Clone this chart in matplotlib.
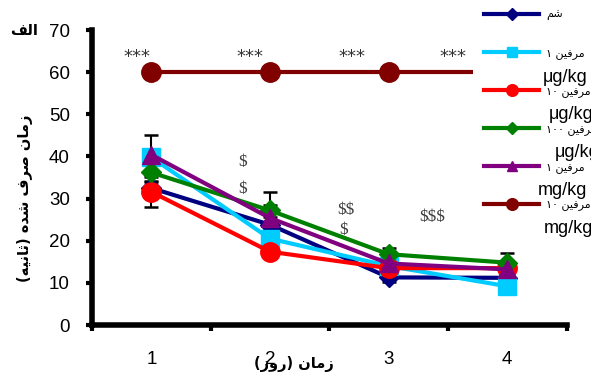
import re
import matplotlib
matplotlib.use("Agg")
import matplotlib.pyplot as plt

# --- data ---
days = [1, 2, 3, 4]
day_labels = ["1", "2", "3", "4"]

sham = [32.5, 23.8, 11.3, 11.2]
morph_1ug = [39.8, 20.5, 14.0, 9.2]
morph_10ug = [31.6, 17.4, 13.5, 13.5]
morph_100ug = [36.2, 27.2, 16.8, 14.8]
morph_1mg = [40.4, 25.4, 14.6, 13.2]
morph_10mg = [60.0, 60.0, 60.0, 60.0]

sham_err = [1.5, 1.8, 1.2, 1.0]
morph_1ug_err = [1.5, 1.5, 1.0, 0.8]
morph_10ug_err = [3.6, 1.5, 1.0, 1.0]
morph_100ug_err = [2.0, 4.3, 1.5, 2.3]
morph_1mg_err = [4.7, 3.0, 1.5, 1.5]
morph_10mg_err = [0.5, 0.5, 0.5, 0.5]

series_names = ["شم", "مرفین ۱", "مرفین ۱۰", "مرفین ۱۰۰", "مرفین ۱", "مرفین ۱۰"]
series_units = ["", "μg/kg", "μg/kg", "μg/kg", "mg/kg", "mg/kg"]

star_x = [0.88, 1.83, 2.69, 3.54]
star_y = [63.6, 63.6, 63.6, 63.6]
dollar_marks = ["$", "$", "$$", "$", "$$$"]
dollar_x = [1.77, 1.77, 2.64, 2.62, 3.37]
dollar_y = [38.8, 32.4, 27.4, 22.6, 25.6]

# --- tiny arabic/persian shaper (matplotlib has no shaping/bidi) ---
FORMS = {  # isolated, final, initial, medial
    "ا": ("\uFE8D", "\uFE8E", None, None),
    "ل": ("\uFEDD", "\uFEDE", "\uFEDF", "\uFEE0"),
    "ف": ("\uFED1", "\uFED2", "\uFED3", "\uFED4"),
    "ز": ("\uFEAF", "\uFEB0", None, None),
    "م": ("\uFEE1", "\uFEE2", "\uFEE3", "\uFEE4"),
    "ن": ("\uFEE5", "\uFEE6", "\uFEE7", "\uFEE8"),
    "ص": ("\uFEB9", "\uFEBA", "\uFEBB", "\uFEBC"),
    "ر": ("\uFEAD", "\uFEAE", None, None),
    "ش": ("\uFEB5", "\uFEB6", "\uFEB7", "\uFEB8"),
    "د": ("\uFEA9", "\uFEAA", None, None),
    "ث": ("\uFE99", "\uFE9A", "\uFE9B", "\uFE9C"),
    "ی": ("\uFBFC", "\uFBFD", "\uFBFE", "\uFBFF"),
    "ه": ("\uFEE9", "\uFEEA", "\uFEEB", "\uFEEC"),
    "و": ("\uFEED", "\uFEEE", None, None),
}


def fa(s):
    out = []
    for i, c in enumerate(s):
        if c not in FORMS:
            out.append(c)
            continue
        prev = s[i - 1] if i > 0 else ""
        nxt = s[i + 1] if i + 1 < len(s) else ""
        jp = prev in FORMS and FORMS[prev][2] is not None
        jn = nxt in FORMS and FORMS[c][2] is not None
        iso, fin, ini, med = FORMS[c]
        out.append(med if jp and jn else fin if jp else ini if jn else iso)
    vis = "".join(out)[::-1]
    vis = vis.translate(str.maketrans("()", ")("))
    return re.sub(r"[0-9۰-۹]+", lambda m: m.group()[::-1], vis)


colors = ["#000080", "#00CCFF", "#FF0000", "#008000", "#800080", "#800000"]
markers = ["D", "s", "o", "D", "^", "o"]
msizes = [10, 13, 14, 10, 13, 14]
values = [sham, morph_1ug, morph_10ug, morph_100ug, morph_1mg, morph_10mg]
errors = [sham_err, morph_1ug_err, morph_10ug_err, morph_100ug_err, morph_1mg_err, morph_10mg_err]

fig = plt.figure(figsize=(5.91, 3.76), dpi=100)
ax = fig.add_axes([0.1557, 0.1356, 0.803, 0.7844])

handles = []
for vals, err, col, mk, ms in zip(values, errors, colors, markers, msizes):
    ax.errorbar(days, vals, yerr=err, fmt="none", ecolor="black",
                elinewidth=1.5, capsize=4.7, capthick=1.8, zorder=2)
    line, = ax.plot(days, vals, color=col, lw=3, marker=mk, ms=ms, zorder=3)
    handles.append(line)

ax.set_xlim(0.5, 4.5)
ax.set_ylim(0, 70)
ax.set_yticks(range(0, 71, 10))
ax.set_xticks(days)
ax.set_xticklabels(day_labels)
ax.set_xticks([0.5, 1.5, 2.5, 3.5, 4.5], minor=True)

for s in ["top", "right"]:
    ax.spines[s].set_visible(False)
for s in ["left", "bottom"]:
    ax.spines[s].set_linewidth(4)

ax.tick_params(axis="y", direction="out", length=4, width=3, pad=12,
               labelsize=13.5)
ax.tick_params(axis="x", which="major", length=0, pad=19, labelsize=13.5)
ax.tick_params(axis="x", which="minor", direction="out", length=4, width=3)
for lab in ax.get_xticklabels() + ax.get_yticklabels():
    lab.set_fontfamily("Liberation Sans")

for x, y in zip(star_x, star_y):
    ax.text(x, y, "***", ha="center", va="center", fontsize=13,
            color="#333333", family="DejaVu Sans")
for t, x, y in zip(dollar_marks, dollar_x, dollar_y):
    ax.text(x, y, t, ha="center", va="center", fontsize=12.5,
            color="#404040", family="Liberation Serif", parse_math=False)

ax.set_ylabel(fa("زمان صرف شده (ثانیه)"), fontsize=10.5, fontweight="bold",
              family="DejaVu Sans", labelpad=8)
ax.yaxis.set_label_coords(-0.125, 0.43)
ax.set_xlabel(fa("زمان (روز)"), fontsize=10.5, fontweight="bold",
              family="DejaVu Sans")
ax.xaxis.set_label_coords(0.425, -0.105)

fig.text(0.04, 0.918, fa("الف"), fontsize=10.5, fontweight="bold",
         ha="center", va="center", family="DejaVu Sans")

leg = ax.legend(handles, [fa(n) for n in series_names],
                loc="upper left", bbox_to_anchor=(0.8, 1.003),
                bbox_transform=fig.transFigure, prop={"family": "DejaVu Sans", "size": 8},
                frameon=True, facecolor="white", edgecolor="none", framealpha=1,
                borderpad=1.0, borderaxespad=0, handlelength=5.0, handletextpad=0.6,
                labelspacing=2.42, markerscale=0.6)
for t, unit in zip(leg.get_texts(), series_units):
    if unit:
        ax.annotate(unit, xy=(1, 0), xycoords=t, xytext=(2, -7),
                    textcoords="offset points", ha="right", va="top",
                    fontsize=13, family="Liberation Sans",
                    annotation_clip=False, zorder=10)

fig.savefig("out.png", dpi=100)
